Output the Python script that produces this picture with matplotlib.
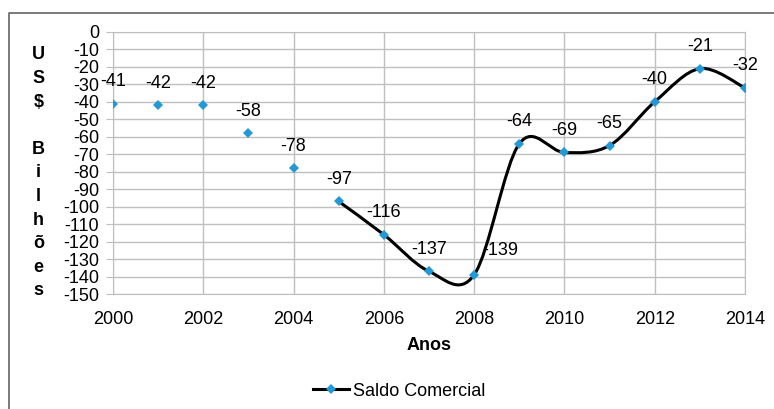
import numpy as np
import matplotlib.pyplot as plt
from matplotlib.path import Path
from matplotlib.patches import PathPatch
from matplotlib.lines import Line2D

plt.rcParams['font.family'] = ['Liberation Sans', 'DejaVu Sans']
plt.rcParams['axes.unicode_minus'] = False

anos = [2000, 2001, 2002, 2003, 2004, 2005, 2006, 2007,
        2008, 2009, 2010, 2011, 2012, 2013, 2014]
saldo = [-41, -42, -42, -58, -78, -97, -116, -137,
         -139, -64, -69, -65, -40, -21, -32]
inicio_linha = 5  # the curve is drawn from 2005 on
ylabel_letras = ['U', 'S', '$', '', 'B', 'i', 'l', 'h', 'õ', 'e', 's']

azul = '#2299d6'
cinza = '#bfbfbf'


def smooth_path(x, y):
    """
    Catmull-Rom style bezier path through the points (like Excel smoothed line)
    """
    p = np.column_stack([x, y]).astype(float)
    n = len(p)
    verts = [p[0]]
    codes = [Path.MOVETO]
    for i in range(n - 1):
        p0 = p[max(i - 1, 0)]
        p1 = p[i]
        p2 = p[i + 1]
        p3 = p[min(i + 2, n - 1)]
        c1 = p1 + (p2 - p0) / 6.0
        c2 = p2 - (p3 - p1) / 6.0
        verts += [c1, c2, p2]
        codes += [Path.CURVE4] * 3
    return Path(verts, codes)


fig = plt.figure(figsize=(7.74, 4.09), dpi=100)
ax = fig.add_axes([0.146, 0.281, 0.8165, 0.641])

ax.add_patch(PathPatch(smooth_path(anos[inicio_linha:], saldo[inicio_linha:]),
                       facecolor='none', edgecolor='black', lw=2.2, zorder=3))
ax.plot(anos, saldo, linestyle='none', marker='D', markersize=5.5,
        color=azul, markeredgewidth=0, zorder=4)

for ano, v in zip(anos, saldo):
    if v == -139:
        ax.annotate(str(v), (ano, v), xytext=(26, 24), textcoords='offset pixels',
                    ha='center', va='center', fontsize=13)
    else:
        ax.annotate(str(v), (ano, v), xytext=(0, 22), textcoords='offset pixels',
                    ha='center', va='center', fontsize=13)

ax.set_xlim(2000, 2014)
ax.set_ylim(-150, 0)
ax.set_xticks(range(2000, 2015, 2))
ax.set_yticks(range(-150, 1, 10))
ax.grid(True, color=cinza, lw=1)
ax.set_axisbelow(True)
for s in ax.spines.values():
    s.set_color(cinza)
ax.tick_params(axis='y', length=5, color=cinza, labelsize=13, pad=5)
ax.tick_params(axis='x', length=0, labelsize=13, pad=12)
ax.set_xlabel('Anos', fontsize=13, fontweight='bold', labelpad=7)

# stacked y label
for i, letra in enumerate(ylabel_letras):
    fig.text(0.05, 0.866 - i * 0.0577, letra, fontsize=13, fontweight='bold',
             ha='center', va='center')

handle = Line2D([], [], color='black', lw=2.2, marker='D', markersize=5.5,
                markerfacecolor=azul, markeredgewidth=0)
fig.legend([handle], ['Saldo Comercial'], loc='center', bbox_to_anchor=(0.516, 0.044),
           frameon=False, fontsize=13, handlelength=2.0, handletextpad=0.2)

# outer frame: only the left and top edges fall inside the picture
fx, fy = 8.5 / 774, 1 - 12.5 / 409
fig.add_artist(Line2D([fx, fx, 1.0], [0.0, fy, fy], transform=fig.transFigure,
                      color='#6f6f6f', lw=1.3))

fig.savefig('out.png', dpi=100)
